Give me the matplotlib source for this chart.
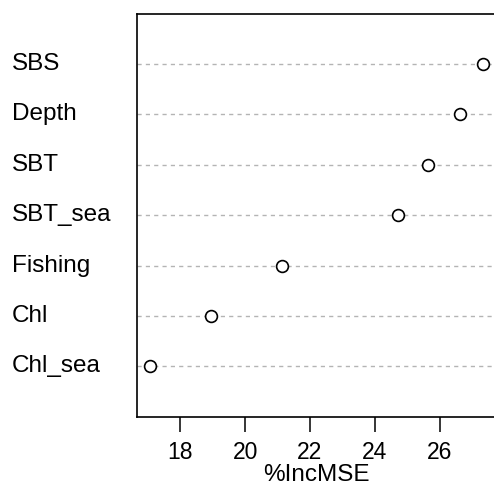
import matplotlib
matplotlib.use("Agg")
import matplotlib.pyplot as plt

variables = ["SBS", "Depth", "SBT", "SBT_sea", "Fishing", "Chl", "Chl_sea"]
inc_mse = [27.32, 26.62, 25.63, 24.71, 21.14, 18.95, 17.08]
xticks = [18, 20, 22, 24, 26]

plt.rcParams["font.family"] = ["Liberation Sans", "DejaVu Sans"]

fig = plt.figure(figsize=(4.94, 4.95), dpi=100)
ax = fig.add_axes([0.2773, 0.1584, 0.7267, 0.8139])

n = len(variables)
ypos = list(range(n, 0, -1))

lo, hi = min(inc_mse), max(inc_mse)
pad = (hi - lo) * 0.04
ax.set_xlim(lo - pad, hi + pad)
ax.set_ylim(0, n + 1)

for y in ypos:
    ax.axhline(y, color="#b4b4b4", lw=1.0, ls=(0, (3, 3)), zorder=1)

ax.plot(inc_mse, ypos, ls="none", marker="o", ms=8.5, mfc="white",
        mec="black", mew=1.2, zorder=3)

ax.set_yticks([])
ax.set_xticks(xticks)
ax.set_xticklabels([str(t) for t in xticks], fontsize=16.5)
ax.tick_params(axis="x", direction="out", length=10.5, width=1.1, pad=7)
for s in ax.spines.values():
    s.set_linewidth(1.2)

for lab, y in zip(variables, ypos):
    ax.text(12, ax.transData.transform((0, y))[1], lab, transform=None,
            ha="left", va="center", fontsize=17.5)

ax.set_xlabel("%IncMSE", fontsize=17.5, labelpad=0)

fig.savefig("out.png", dpi=100)
